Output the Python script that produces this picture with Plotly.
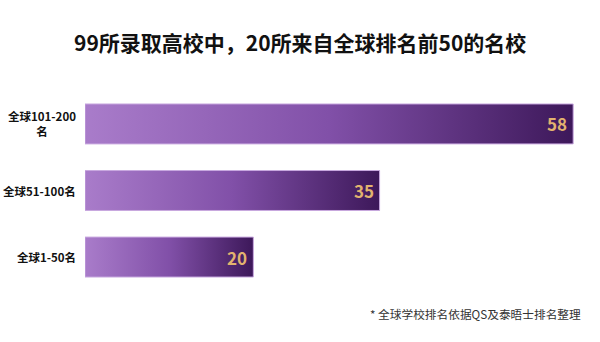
import plotly.graph_objects as go

# Ranking tiers (bottom to top) and number of admitting universities in each
categories = ["全球1-50名", "全球51-100名", "全球101-200<br>名"]
counts = [20, 35, 58]

title_text = "99所录取高校中，20所来自全球排名前50的名校"
footnote = "* 全球学校排名依据QS及泰晤士排名整理"

FONT = "Noto Sans CJK SC"
BAR_HALF = 0.3
gradient = [[0.0, "#a97cca"], [0.5, "#8150a8"], [1.0, "#3d185a"]]

W, H = 600, 342
ML, MR, MT, MB = 85, 10, 84, 45
PW, PH = W - ML - MR, H - MT - MB

fig = go.Figure()

for i, (cat, v) in enumerate(zip(categories, counts)):
    # each bar is a filled rectangle so it can carry a left-to-right gradient
    fig.add_trace(go.Scatter(
        x=[0, v, v, 0, 0],
        y=[i - BAR_HALF, i - BAR_HALF, i + BAR_HALF, i + BAR_HALF, i - BAR_HALF],
        mode="lines",
        fill="toself",
        fillgradient=dict(type="horizontal", colorscale=gradient),
        line=dict(color="#c8a8df", width=1),
        hoverinfo="text",
        text=f"{cat.replace('<br>', '')}: {v}",
        showlegend=False,
    ))
    # value label inside the bar end
    fig.add_annotation(
        x=v, y=i, xref="x", yref="y", text=f"<b>{v}</b>",
        xanchor="right", xshift=-4, showarrow=False,
        font=dict(family=FONT, size=17, color="#e2b36f"),
    )
    # category label left of the bar
    fig.add_annotation(
        x=0, y=i, xref="paper", yref="y", text=f"<b>{cat}</b>",
        xanchor="right", xshift=-7, showarrow=False, align="center",
        font=dict(family=FONT, size=11.5, color="#111111"),
    )

# title centred on the page
fig.add_annotation(
    x=(W / 2 - ML) / PW, y=1 + (MT - 42) / PH, xref="paper", yref="paper",
    text=f"<b>{title_text}</b>", xanchor="center", yanchor="middle",
    showarrow=False, font=dict(family=FONT, size=21, color="#111111"),
)

# source note, bottom right
fig.add_annotation(
    x=1, y=-(313 - (H - MB)) / PH, xref="paper", yref="paper",
    text=footnote, xanchor="right", yanchor="middle", xshift=-7, showarrow=False,
    font=dict(family=FONT, size=11.7, color="#333333"),
)

fig.update_layout(
    width=W, height=H,
    margin=dict(l=ML, r=MR, t=MT, b=MB),
    paper_bgcolor="white", plot_bgcolor="white",
    xaxis=dict(range=[0, 60], visible=False, fixedrange=True),
    yaxis=dict(range=[-0.6, 2.6], visible=False, fixedrange=True),
)

fig.write_html("out.html")
